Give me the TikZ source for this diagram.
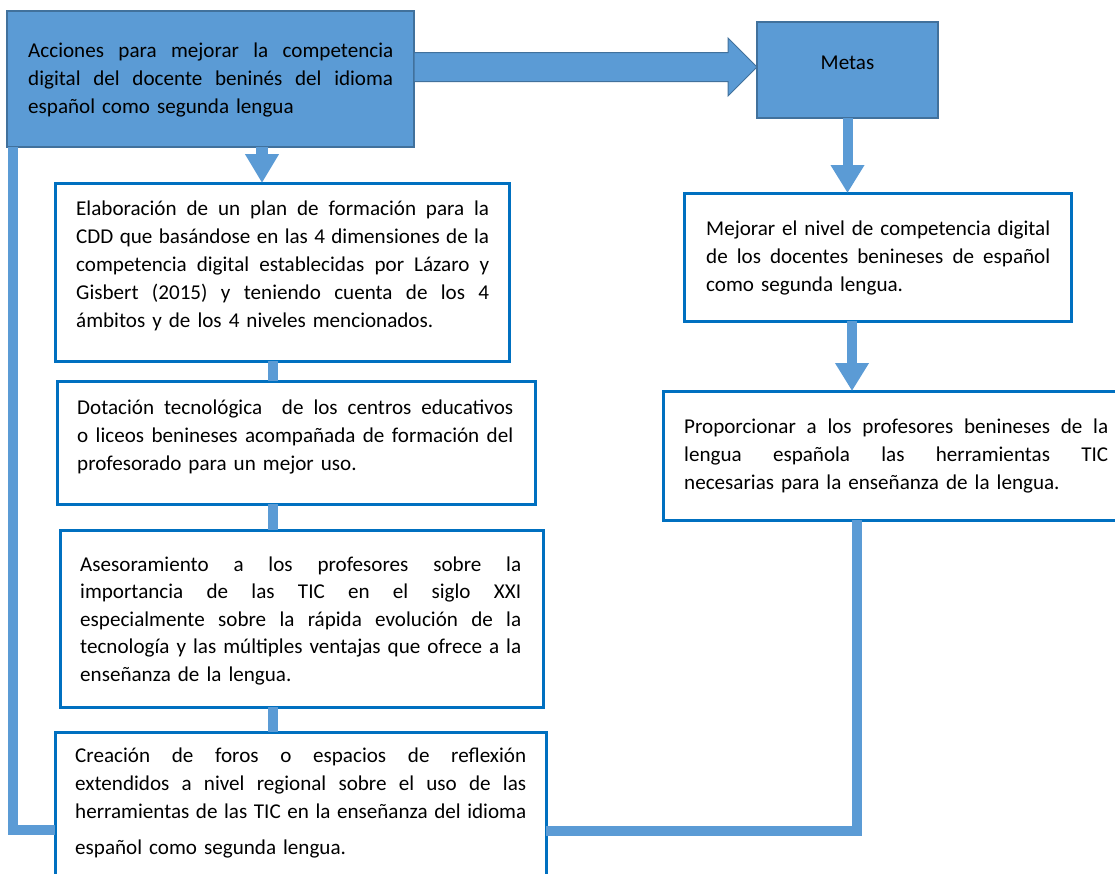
\documentclass[tikz,border=0pt]{standalone}
\usepackage{fontspec}
\setmainfont{Carlito}
\usetikzlibrary{arrows.meta,calc}
\definecolor{bluefill}{HTML}{5B9BD5}
\definecolor{blueedge}{HTML}{41719C}
\definecolor{boxedge}{HTML}{0070C0}
\newcommand{\JL}[1]{\noindent\hbox to \hsize{\spaceskip=\fontdimen2\font plus 1fil minus \fontdimen4\font\relax #1}}
\newcommand{\J}[1]{\JL{#1}\\}
\begin{document}
\begin{tikzpicture}[x=1pt,y=-1pt,
  bluebox/.style={rectangle, fill=bluefill, draw=blueedge, line width=1.5pt, inner sep=0pt, outer sep=0pt},
  whitebox/.style={rectangle, fill=white, draw=boxedge, line width=3pt, inner sep=0pt, outer sep=0pt},
  txt/.style={anchor=base west, inner sep=0pt, align=left, font=\fontsize{21.1}{28}\selectfont, text=black},
  link/.style={draw=bluefill, line width=10pt},
  downarrow/.style={draw=bluefill, line width=10pt, -{Triangle[width=32pt,length=28pt]}}
]
\useasboundingbox (0,0) rectangle (1115,873);
\clip (0,0) rectangle (1115,873);

% boxes
\node[bluebox, minimum width=407pt, minimum height=136pt] (top) at (210.5,79) {};
\node[bluebox, minimum width=181pt, minimum height=96pt] (metas) at (847.5,70) {};
\node[whitebox, minimum width=454pt, minimum height=178pt] (elab) at (282,272) {};
\node[whitebox, minimum width=478pt, minimum height=123pt] (dot) at (296,442.5) {};
\node[whitebox, minimum width=483pt, minimum height=177pt] (ases) at (301.5,618.5) {};
\node[whitebox, minimum width=491pt, minimum height=173pt] (crea) at (300.5,818.5) {};
\node[whitebox, minimum width=387pt, minimum height=128pt] (mej) at (877.5,257) {};
\node[whitebox, minimum width=467pt, minimum height=129pt] (prop) at (896.5,455.5) {};

% texts
\node[txt, text width=365pt] (top-t) at (28,57) {\J{Acciones para mejorar la competencia}\J{digital del docente beninés del idioma}español como segunda lengua};
\node[txt, anchor=base] (metas-t) at (847.5,69) {Metas};
\node[txt, text width=413pt] (elab-t) at (76,215) {\J{Elaboración de un plan de formación para la}\J{CDD que basándose en las 4 dimensiones de la}\J{competencia digital establecidas por Lázaro y}\J{Gisbert (2015) y teniendo cuenta de los 4}ámbitos y de los 4 niveles mencionados.};
\node[txt, text width=436pt] (dot-t) at (77,414) {\J{Dotación tecnológica\ \ de los centros educativos}\J{o liceos benineses acompañada de formación del}profesorado para un mejor uso.};
\node[txt, text width=441pt, font=\fontsize{21.1}{27.5}\selectfont] (ases-t) at (80,571) {\J{Asesoramiento a los profesores sobre la}\J{importancia de las TIC en el siglo XXI}\J{especialmente sobre la rápida evolución de la}\J{tecnología y las múltiples ventajas que ofrece a la}enseñanza de la lengua.};
\node[txt, text width=451pt] (crea-t) at (75,762) {\J{Creación de foros o espacios de reflexión}\J{extendidos a nivel regional sobre el uso de las}\JL{herramientas de las TIC en la enseñanza del idioma}\\[8pt]español como segunda lengua.};
\node[txt, text width=344pt] (mej-t) at (706,235) {\J{Mejorar el nivel de competencia digital}\J{de los docentes benineses de español}como segunda lengua.};
\node[txt, text width=424pt] (prop-t) at (684,433) {\J{Proporcionar a los profesores benineses de la}\J{lengua española las herramientas TIC}necesarias para la enseñanza de la lengua.};

% block arrow top -> metas
\coordinate (ay) at (0,67);
\filldraw[fill=bluefill, draw=blueedge, line width=1pt]
  ($(top.east |- ay)+(0,-14.5)$) -- ($(metas.west |- ay)+(-29,-14.5)$) -- ($(metas.west |- ay)+(-29,-29)$)
  -- (metas.west |- ay) -- ($(metas.west |- ay)+(-29,29)$) -- ($(metas.west |- ay)+(-29,14.5)$)
  -- ($(top.east |- ay)+(0,14.5)$) -- cycle;

% top -> elab
\coordinate (t1) at (262,0);
\draw[draw=bluefill, line width=12pt, -{Triangle[width=32pt,length=29pt]}] (top.south -| t1) -- (elab.north -| t1);

% left column links
\coordinate (lx) at (273,0);
\draw[link] (elab.south -| lx) -- (dot.north -| lx);
\draw[link] (dot.south -| lx) -- (ases.north -| lx);
\draw[link] (ases.south -| lx) -- (crea.north -| lx);

% right column arrows
\draw[downarrow] (metas.south) -- (metas.south |- mej.north);
\coordinate (m2) at (852,0);
\draw[downarrow] (mej.south -| m2) -- (prop.north -| m2);

% side lines
\coordinate (lj) at (13,830);
\draw[link] ($(top.south west)+(6,0)$) -- (lj) -- (lj -| crea.west);
\coordinate (rj) at (857,831);
\draw[link] (prop.south -| rj) -- (rj) -- (rj -| crea.east);
\end{tikzpicture}
\end{document}
